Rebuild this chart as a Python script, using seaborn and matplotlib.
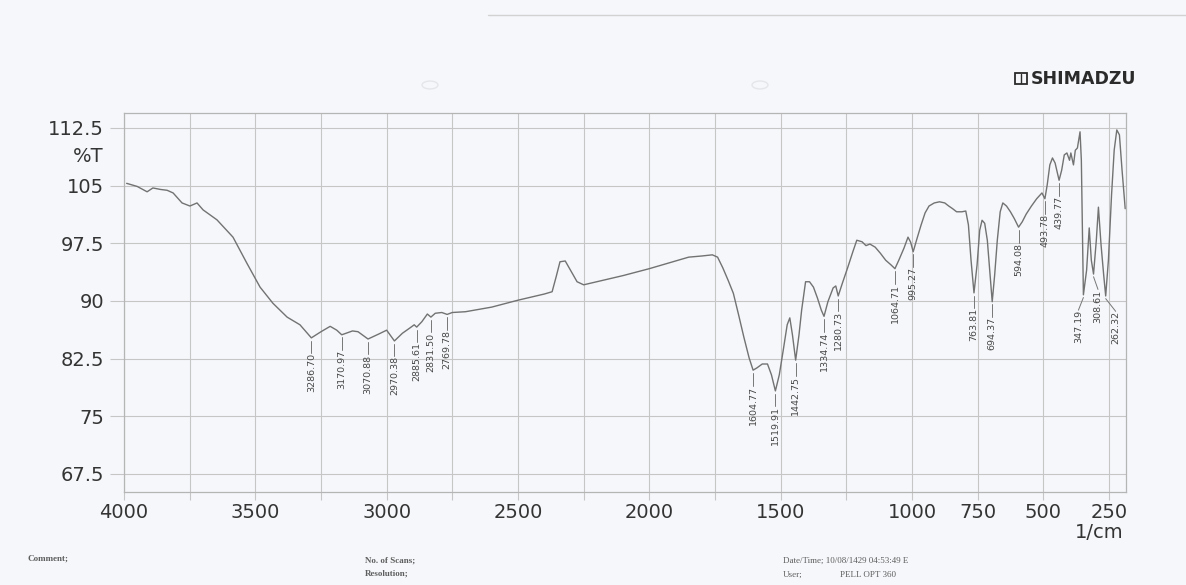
import numpy as np
import pandas as pd
import matplotlib
matplotlib.use("Agg")
import matplotlib.pyplot as plt
import matplotlib.transforms as mtransforms
from matplotlib.lines import Line2D
from matplotlib.patches import Rectangle, Circle
import seaborn as sns

# ---- spectrum (wavenumber in 1/cm, transmittance in %T) ----
wavenumber = [
    3990, 3950, 3912, 3890, 3860, 3836, 3813, 3779, 3749, 3722, 3699, 3646,
    3585, 3532, 3482, 3433, 3379, 3330, 3286.70, 3250, 3215, 3190, 3170.97,
    3130, 3109, 3070.88, 3030, 3000, 2970.38, 2940, 2911, 2895, 2885.61,
    2866, 2845, 2831.50, 2815, 2790, 2769.78, 2750, 2700, 2650, 2600, 2500,
    2400, 2370, 2355, 2340, 2320, 2300, 2275, 2250, 2200, 2100, 2000, 1950,
    1900, 1850, 1800, 1760, 1740, 1720, 1700, 1680, 1660, 1640, 1620,
    1604.77, 1590, 1570, 1550, 1535, 1519.91, 1505, 1490, 1475, 1465, 1455,
    1442.75, 1430, 1420, 1405, 1390, 1375, 1360, 1345, 1334.74, 1320, 1300,
    1290, 1280.73, 1265, 1245, 1225, 1210, 1190, 1175, 1160, 1140, 1120,
    1100, 1080, 1064.71, 1050, 1030, 1015, 1005, 995.27, 980, 965, 950, 935,
    915, 895, 875, 860, 845, 830, 810, 795, 785, 775, 763.81, 752, 742, 733,
    723, 713, 704, 694.37, 685, 675, 664, 654, 640, 625, 610, 594.08, 580,
    565, 545, 525, 505, 493.78, 485, 475, 465, 455, 439.77, 430, 420, 410,
    400, 395, 385, 378, 370, 360, 355, 347.19, 335, 325, 317, 308.61, 298,
    290, 280, 270, 262.32, 252, 240, 230, 220, 210, 200, 188,
]
transmittance = [
    105.3, 104.9, 104.2, 104.7, 104.5, 104.4, 104.05, 102.75, 102.35, 102.75,
    101.85, 100.55, 98.3, 94.9, 91.8, 89.7, 87.9, 86.9, 85.2, 86.0, 86.7,
    86.2, 85.6, 86.1, 86.0, 85.05, 85.7, 86.2, 84.8, 85.8, 86.5, 86.9, 86.6,
    87.3, 88.3, 87.9, 88.4, 88.5, 88.25, 88.5, 88.6, 88.9, 89.2, 90.1, 90.9,
    91.2, 93.1, 95.1, 95.2, 94.0, 92.5, 92.1, 92.5, 93.3, 94.2, 94.7, 95.2,
    95.7, 95.85, 96.0, 95.7, 94.3, 92.7, 91.0, 88.2, 85.3, 82.6, 81.0, 81.3,
    81.8, 81.8, 80.4, 78.3, 80.4, 83.6, 86.9, 87.8, 85.6, 82.3, 85.6, 88.8,
    92.5, 92.5, 91.8, 90.4, 88.8, 88.0, 89.9, 91.7, 91.95, 90.65, 92.3, 94.3,
    96.4, 97.9, 97.7, 97.2, 97.4, 97.0, 96.2, 95.3, 94.7, 94.2, 95.3, 96.9,
    98.3, 97.65, 96.4, 98.2, 99.9, 101.45, 102.35, 102.75, 102.9, 102.75,
    102.35, 102.0, 101.6, 101.6, 101.7, 99.9, 95.3, 91.05, 94.7, 99.2, 100.5,
    100.1, 97.9, 94.0, 89.9, 93.4, 97.9, 101.6, 102.75, 102.35, 101.6, 100.7,
    99.6, 100.3, 101.3, 102.35, 103.3, 104.05, 103.3, 105.1, 107.7, 108.6,
    107.95, 105.7, 107.0, 109.0, 109.25, 108.3, 109.25, 107.7, 109.6, 109.9,
    112.0, 108.3, 90.8, 94.0, 99.5, 95.3, 93.5, 97.9, 102.2, 97.3, 93.4,
    90.65, 95.3, 103.8, 109.6, 112.25, 111.6, 107.0, 102.0,
]

# ---- picked peaks ----
peak_wavenumbers = [
    3286.70, 3170.97, 3070.88, 2970.38, 2885.61, 2831.50, 2769.78, 1604.77,
    1519.91, 1442.75, 1334.74, 1280.73, 1064.71, 995.27, 763.81, 694.37,
    594.08, 493.78, 439.77, 347.19, 308.61, 262.32,
]

# ---- axis ticks ----
x_grid = list(range(4000, 249, -250))
x_tick_labels = ["4000", "3500", "3000", "2500", "2000", "1500", "1000", "750", "500", "250"]
y_ticks = [67.5, 75, 82.5, 90, 97.5, 105, 112.5]
y_tick_labels = ["67.5", "75", "82.5", "90", "97.5", "105", "112.5"]

# ---- style ----
paper = "#f5f7fa"
grid_c = "#c6c6c6"
ink = "#343434"
trace_c = "#727272"

sns.set_theme(style="white")
plt.rcParams["font.family"] = ["DejaVu Sans"]

W, H = 1186, 585
fig = plt.figure(figsize=(W / 100, H / 100), dpi=100, facecolor=paper)
ax = fig.add_axes([124 / W, 1 - 492 / H, (1126 - 124) / W, (492 - 113) / H])
ax.set_facecolor(paper)

df = pd.DataFrame({"wavenumber": wavenumber, "transmittance": transmittance})
sns.lineplot(data=df, x="wavenumber", y="transmittance", ax=ax,
             color=trace_c, linewidth=1.0, estimator=None, sort=True)

ax.set_xlim(4000, 185)
ax.set_ylim(65.15, 114.45)

ax.set_xticks(x_grid)
ax.set_xticklabels([str(v) if str(v) in x_tick_labels else "" for v in x_grid])
ax.set_yticks(y_ticks)
ax.set_yticklabels(y_tick_labels)
ax.grid(True, color=grid_c, linewidth=0.8)
ax.set_axisbelow(True)
ax.tick_params(axis="x", length=5.8, width=0.8, color=grid_c, pad=2.2,
               labelsize=14, labelcolor=ink, bottom=True)
ax.tick_params(axis="y", length=10, width=0.8, color=grid_c, pad=4.3,
               labelsize=14, labelcolor=ink, left=True)
for s in ax.spines.values():
    s.set_color("#b5b5b5")
    s.set_linewidth(0.9)
ax.set_xlabel("")
ax.set_ylabel("")

# unit labels
blend = mtransforms.blended_transform_factory(ax.transAxes, ax.transData)
ax.text(-20 / 1002, 108.85, "%T", transform=blend, ha="right", va="center",
        fontsize=14, color=ink)
fig.text(1099 / W, 1 - 533 / H, "1/cm", ha="center", va="center",
         fontsize=14, color=ink)

# peak markers: leader line under each trough, value written vertically
label_shift = {347.19: 19, 308.61: -17, 262.32: -38}
gap = 2.0
wn_sorted = np.array(wavenumber)[::-1]
t_sorted = np.array(transmittance)[::-1]
for p in peak_wavenumbers:
    t = float(np.interp(p, wn_sorted, t_sorted))
    xl = p + label_shift.get(p, 0)
    ax.plot([p, xl], [t - 0.35, t - gap], color="#777777", linewidth=0.7)
    ax.text(xl, t - gap, f"{p:.2f}", rotation=90, ha="center", va="top",
            fontsize=6.8, color="#474747")

# header logo
fig.patches.append(Rectangle((1015 / W, 1 - 84 / H), 12 / W, 11 / H,
                             transform=fig.transFigure, fill=False,
                             edgecolor="#2b2b2b", linewidth=1.3))
fig.add_artist(Line2D([1021 / W, 1021 / W], [1 - 83 / H, 1 - 74 / H],
                      color="#2b2b2b", linewidth=1.0))
fig.text(1031 / W, 1 - 79 / H, "SHIMADZU", ha="left", va="center",
         fontsize=12.5, fontweight="bold", color="#2b2b2b")

# page details
fig.add_artist(Line2D([488 / W, 1.0], [1 - 15 / H, 1 - 15 / H],
                      color="#d2d2d2", linewidth=1.0))
for cx in (430, 760):
    fig.patches.append(Circle((cx / W, 1 - 85 / H), 8 / W,
                              transform=fig.transFigure, fill=False,
                              edgecolor="#e4e6ea", linewidth=1.0))

serif = ["Liberation Serif", "DejaVu Serif"]
foot = "#5e5e5e"
fig.text(28 / W, 1 - 559 / H, "Comment;", ha="left", va="center",
         fontsize=6.5, fontweight="bold", color=foot, family=serif)
fig.text(365 / W, 1 - 561 / H, "No. of Scans;", ha="left", va="center",
         fontsize=6.5, fontweight="bold", color=foot, family=serif)
fig.text(365 / W, 1 - 574 / H, "Resolution;", ha="left", va="center",
         fontsize=6.5, fontweight="bold", color=foot, family=serif)
fig.text(783 / W, 1 - 561 / H, "Date/Time; 10/08/1429 04:53:49 E", ha="left",
         va="center", fontsize=6.5, color=foot, family=serif)
fig.text(783 / W, 1 - 575 / H, "User;", ha="left", va="center",
         fontsize=6.5, color=foot, family=serif)
fig.text(840 / W, 1 - 575 / H, "PELL OPT 360", ha="left", va="center",
         fontsize=6.5, color=foot, family=serif)

fig.savefig("out.png", dpi=100, facecolor=paper)
